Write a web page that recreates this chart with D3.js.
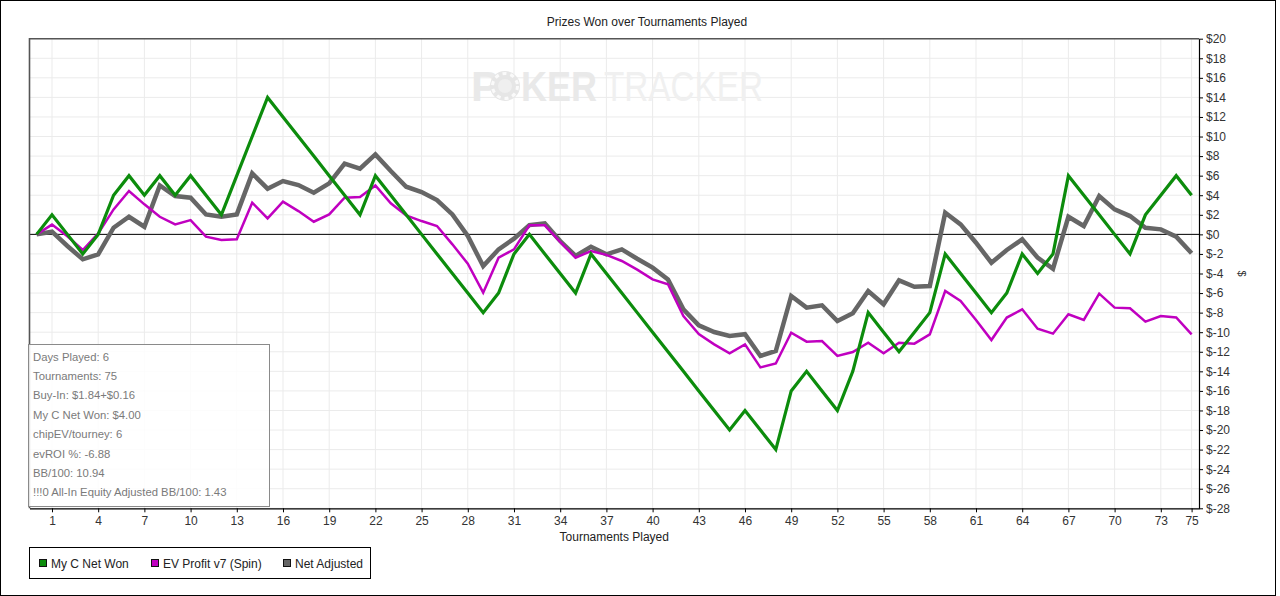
<!DOCTYPE html>
<html>
<head>
<meta charset="utf-8">
<script src="https://cdn.jsdelivr.net/npm/d3@7"></script>
<style>
  body { margin: 0; background: #fff; }
  text { font-family: "Liberation Sans", Arial, sans-serif; }
</style>
</head>
<body>
<div id="container"></div>
<script>
// tournament index 0..75
const tournaments = d3.range(0, 76);

const netWon = [0, 2, 0, -2, 0, 4, 6, 4, 6, 4, 6, 4, 2, 6, 10, 14, 12, 10, 8, 6,
  4, 2, 6, 4, 2, 0, -2, -4, -6, -8, -6, -2, 0, -2, -4, -6, -2, -4, -6, -8,
  -10, -12, -14, -16, -18, -20, -18, -20, -22, -16, -14, -16, -18, -14, -8, -10, -12, -10, -8, -2,
  -4, -6, -8, -6, -2, -4, -2, 6, 4, 2, 0, -2, 2, 4, 6, 4];

const evProfit = [0, 1.0, -0.2, -1.6, 0.1, 2.55, 4.43, 3.07, 1.8, 1.02, 1.46, -0.24, -0.58, -0.51, 3.24, 1.63, 3.34, 2.38, 1.29, 2.04,
  3.75, 3.81, 5.0, 3.17, 1.94, 1.36, 0.85, -1.02, -3.0, -5.96, -2.38, -1.53, 0.92, 0.92, -0.78, -2.38, -1.7, -2.1, -2.72, -3.6,
  -4.6, -5.1, -8.34, -10.2, -11.24, -12.16, -11.24, -13.6, -13.2, -10.05, -10.97, -10.9, -12.43, -12.02, -11.07, -12.16, -11.07, -11.17, -10.22, -5.79,
  -6.81, -8.75, -10.8, -8.5, -7.66, -9.64, -10.15, -8.17, -8.75, -6.06, -7.49, -7.56, -8.92, -8.34, -8.5, -10.22];

const netAdjusted = [0, 0.27, -1.19, -2.55, -2.04, 0.68, 1.8, 0.78, 5.0, 3.92, 3.75, 2.04, 1.8, 2.04, 6.23, 4.67, 5.45, 5.04, 4.26, 5.21,
  7.22, 6.71, 8.17, 6.47, 4.87, 4.33, 3.51, 2.04, -0.17, -3.24, -1.53, -0.44, 0.95, 1.12, -0.68, -2.21, -1.26, -2.04, -1.53, -2.49,
  -3.4, -4.6, -7.66, -9.3, -9.98, -10.39, -10.2, -12.43, -11.92, -6.3, -7.49, -7.25, -8.86, -8.07, -5.79, -7.15, -4.7, -5.35, -5.28, 2.21,
  1.02, -0.85, -2.9, -1.6, -0.51, -2.38, -3.51, 1.8, 0.85, 3.92, 2.55, 1.87, 0.68, 0.51, -0.24, -1.94];

const xTicks = [1, 4, 7, 10, 13, 16, 19, 22, 25, 28, 31, 34, 37, 40, 43, 46, 49, 52, 55, 58, 61, 64, 67, 70, 73, 75];
const yTicks = d3.range(-28, 21, 2);

const seriesNames = ['My C Net Won', 'EV Profit v7 (Spin)', 'Net Adjusted'];
const seriesColors = ['#0c8c0c', '#c000c0', '#666666'];

const statLines = [
  'Days Played: 6',
  'Tournaments: 75',
  'Buy-In: $1.84+$0.16',
  'My C Net Won: $4.00',
  'chipEV/tourney: 6',
  'evROI %: -6.88',
  'BB/100: 10.94',
  '!!!0 All-In Equity Adjusted BB/100: 1.43'
];

const W = 1280, H = 596;
const plot = { left: 29.5, right: 1199, top: 38.7, bottom: 508.3 };

const svg = d3.select('#container').append('svg')
  .attr('width', W)
  .attr('height', H);

svg.append('rect')
  .attr('x', 0.5).attr('y', 0.5)
  .attr('width', 1275).attr('height', 595)
  .attr('fill', '#fff')
  .attr('stroke', '#000');

const xScale = d3.scaleLinear().domain([-0.46, 75.48]).range([plot.left, plot.right]);
const yScale = d3.scaleLinear().domain([-28, 20]).range([plot.bottom, plot.top]);

// grid
svg.append('g').selectAll('line.h')
  .data(yTicks)
  .enter().append('line')
  .attr('x1', plot.left).attr('x2', plot.right)
  .attr('y1', d => yScale(d)).attr('y2', d => yScale(d))
  .attr('stroke', '#ebebeb');

svg.append('g').selectAll('line.v')
  .data(xTicks)
  .enter().append('line')
  .attr('x1', d => xScale(d)).attr('x2', d => xScale(d))
  .attr('y1', plot.top).attr('y2', plot.bottom)
  .attr('stroke', '#ebebeb');

// watermark
const wm = svg.append('g');
wm.append('text')
  .attr('x', 471).attr('y', 101)
  .attr('font-size', 43).attr('font-weight', 'bold')
  .attr('fill', '#e9e9e9')
  .text('P');
const chip = wm.append('g').attr('transform', 'translate(505,86)');
chip.append('circle').attr('r', 15).attr('fill', '#e6e6e6');
chip.append('circle').attr('r', 12.5).attr('fill', 'none')
  .attr('stroke', '#fafafa').attr('stroke-width', 3).attr('stroke-dasharray', '4 4');
chip.append('circle').attr('r', 7).attr('fill', '#efefef');
wm.append('text')
  .attr('x', 521).attr('y', 101)
  .attr('font-size', 43).attr('font-weight', 'bold')
  .attr('fill', '#e9e9e9')
  .attr('textLength', 76).attr('lengthAdjust', 'spacingAndGlyphs')
  .text('KER');
wm.append('text')
  .attr('x', 604).attr('y', 101)
  .attr('font-size', 43)
  .attr('fill', '#f0f0f0')
  .attr('textLength', 159).attr('lengthAdjust', 'spacingAndGlyphs')
  .text('TRACKER');

// zero line
svg.append('line')
  .attr('x1', plot.left).attr('x2', plot.right)
  .attr('y1', yScale(0)).attr('y2', yScale(0))
  .attr('stroke', '#000');

// lines, gray underneath, green on top
const line = d3.line()
  .x((d, i) => xScale(tournaments[i]))
  .y(d => yScale(d));

const series = [
  { values: netAdjusted, color: seriesColors[2], width: 4.5 },
  { values: evProfit, color: seriesColors[1], width: 2.5 },
  { values: netWon, color: seriesColors[0], width: 3.2 }
];

svg.append('g').selectAll('path')
  .data(series)
  .enter().append('path')
  .attr('d', d => line(d.values))
  .attr('fill', 'none')
  .attr('stroke', d => d.color)
  .attr('stroke-width', d => d.width)
  .attr('stroke-linejoin', 'miter');

// frame: top + left gray, right + bottom axes black
svg.append('path')
  .attr('d', `M${plot.left},${plot.bottom}V${plot.top}H${plot.right}`)
  .attr('fill', 'none')
  .attr('stroke', '#555')
  .attr('stroke-width', 1.6);

const xAxis = svg.append('g')
  .attr('transform', `translate(0,${plot.bottom})`)
  .call(d3.axisBottom(xScale).tickValues(xTicks).tickSize(4).tickSizeOuter(0));

const yAxis = svg.append('g')
  .attr('transform', `translate(${plot.right},0)`)
  .call(d3.axisRight(yScale).tickValues(yTicks).tickSize(4).tickSizeOuter(0)
    .tickFormat(d => '$' + d));

[xAxis, yAxis].forEach(a => {
  a.select('.domain').attr('stroke', '#000').attr('stroke-width', 1.2);
  a.selectAll('.tick line').attr('stroke', '#000');
  a.selectAll('.tick text')
    .attr('font-family', '"Liberation Sans", Arial, sans-serif')
    .attr('font-size', 12)
    .attr('fill', '#333');
});
xAxis.selectAll('.tick text').attr('dy', '0.55em').attr('y', 10);
yAxis.selectAll('.tick text').attr('x', 7);

// titles
svg.append('text')
  .attr('x', 647).attr('y', 26)
  .attr('text-anchor', 'middle')
  .attr('font-size', 12)
  .attr('fill', '#222')
  .text('Prizes Won over Tournaments Played');

svg.append('text')
  .attr('x', (plot.left + plot.right) / 2).attr('y', 541)
  .attr('text-anchor', 'middle')
  .attr('font-size', 12)
  .attr('fill', '#222')
  .text('Tournaments Played');

svg.append('text')
  .attr('transform', `translate(1238,${(plot.top + plot.bottom) / 2}) rotate(90)`)
  .attr('text-anchor', 'middle')
  .attr('font-size', 11)
  .attr('fill', '#333')
  .text('$');

// stats box
const stats = svg.append('g');
stats.append('rect')
  .attr('x', 28.5).attr('y', 344.5)
  .attr('width', 241).attr('height', 162)
  .attr('fill', '#fff').attr('fill-opacity', 0.85)
  .attr('stroke', '#8a8a8a');
stats.selectAll('text')
  .data(statLines)
  .enter().append('text')
  .attr('x', 33)
  .attr('y', (d, i) => 360.5 + i * 19.4)
  .attr('font-family', '"Open Sans", "Noto Sans", sans-serif')
  .attr('font-size', 11.3)
  .attr('fill', '#7a7a7a')
  .text(d => d);

// legend
const legend = svg.append('g');
legend.append('rect')
  .attr('x', 29.5).attr('y', 547.5)
  .attr('width', 341).attr('height', 31)
  .attr('fill', '#fff')
  .attr('stroke', '#000');
const legendX = [39, 151, 283];
const item = legend.selectAll('g.item')
  .data(seriesNames)
  .enter().append('g')
  .attr('transform', (d, i) => `translate(${legendX[i]},559)`);
item.append('rect')
  .attr('x', 0.5).attr('y', 0.5)
  .attr('width', 7).attr('height', 7)
  .attr('fill', (d, i) => seriesColors[i])
  .attr('stroke', '#111');
item.append('text')
  .attr('x', 12).attr('y', 8.5)
  .attr('font-size', 12)
  .attr('fill', '#222')
  .text(d => d);
</script>
</body>
</html>
